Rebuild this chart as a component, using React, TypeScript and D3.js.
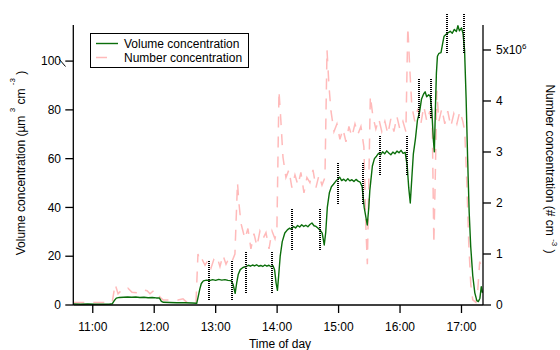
import React from "react";
import * as d3 from "d3";

// Time in minutes after midnight
const timeTickLabels = ["11:00", "12:00", "13:00", "14:00", "15:00", "16:00", "17:00"];
const volTicks = [0, 20, 40, 60, 80, 100];
const numTicks = [0, 1, 2, 3, 4, 5]; // x10^6

// Volume concentration (µm3 cm-3)
const volumeSeries: [number, number][] = [
  [641, 0.4], [648, 0.3], [655, 0.4], [662, 0.3], [670, 0.35], [676, 0.3], [679, 0.5], [681, 1.8], [683, 2.8],
  [686, 3.1], [690, 3.2], [694, 3.3], [698, 3.2], [702, 3.3], [706, 3.1], [710, 3.2], [714, 3.0], [718, 3.1],
  [722, 2.9], [725, 2.9], [727, 1.5], [729, 1.1], [735, 1.0], [742, 0.9], [750, 0.9], [757, 0.8], [761.5, 0.7],
  [763, 3.5], [764.5, 6.5], [766, 8.8], [768, 9.9], [771, 10.2], [774, 10.0], [777, 10.4], [780, 10.1],
  [783, 10.5], [786, 10.2], [789, 10.4], [792, 10.1], [795, 10.0], [797, 8.5], [799, 4.8], [800.5, 9],
  [802, 12.5], [804, 14.5], [806, 15.2], [808, 15.6], [810, 15.8], [812, 16.3], [814, 15.9], [816, 16.4],
  [818, 16.0], [820, 16.5], [822, 15.9], [824, 16.2], [826, 15.8], [828, 16.4], [830, 15.9], [832, 16.3],
  [834, 15.7], [836, 16.1], [837.5, 14.5], [839, 9], [840.3, 6.0], [841.5, 12], [843, 20], [845, 26],
  [847.5, 29.5], [850, 30.8], [852, 31.5], [854, 31.0], [856, 32.2], [858, 31.6], [860, 32.6], [862, 32.0],
  [864, 32.9], [866, 32.2], [868, 32.7], [870, 32.1], [872, 33.0], [874, 33.6], [876, 32.5], [878, 32.2],
  [880, 31.5], [882, 30.7], [884, 29.5], [886, 24.6], [887.5, 30], [889, 40], [891, 46], [893, 48.5],
  [895, 49.5], [897, 50.6], [899, 51.5], [901, 52.4], [903, 51.0], [905, 51.6], [907, 50.8], [909, 51.8],
  [911, 50.9], [913, 51.4], [915, 50.6], [917, 51.5], [919, 50.8], [921, 50.4], [923, 48.5], [925, 40],
  [928, 32.8], [929.5, 40], [930.5, 47], [931.5, 51], [933, 57], [935, 60], [937, 61], [939, 62.2],
  [941, 61.6], [943, 62.8], [945, 62.0], [947, 63.2], [949, 62.3], [951, 61.6], [953, 62.7], [955, 62.0],
  [957, 63.1], [959, 62.4], [961, 63.4], [963, 62.2], [965, 62.6], [967, 57], [968.5, 48], [970, 41.8],
  [971.5, 52], [973, 62], [975, 68], [977, 75.8], [979, 79], [981, 84.5], [983, 86.5], [984.5, 87.4],
  [986, 85.4], [988, 86.2], [989.5, 85.5], [991, 80], [992.5, 68], [993.5, 62.8], [994.5, 80], [995.5, 95],
  [996.5, 102], [998, 103.2], [1000, 103.5], [1001.5, 107], [1003, 110.2], [1005, 111], [1007, 111.6],
  [1009, 112.2], [1011, 111.4], [1013, 113], [1015, 112.1], [1016.5, 114.5], [1018, 112.4], [1020, 113.6],
  [1021.5, 111.3], [1023, 104.5], [1024.5, 85], [1026, 60], [1027.5, 38], [1029, 24], [1031, 12], [1033, 5],
  [1035, 1.8], [1036.5, 1.4], [1038, 2.8], [1039.3, 7.5], [1040.5, 5],
];

// Number concentration (x10^6 # cm-3)
const numberSeries: [number, number][] = [
  [641, 0.05], [660, 0.05], [679, 0.05], [681.8, 0.41], [684.7, 0.22], [688.6, 0.3], [691.5, 0.28],
  [694.4, 0.33], [698.3, 0.25], [703.2, 0.24], [708.1, 0.3], [713, 0.28], [715.9, 0.22], [718.8, 0.27],
  [722.7, 0.28], [725.7, 0.15], [728.6, 0.1], [735.4, 0.1], [743.2, 0.1], [748.1, 0.12], [752, 0.05],
  [760.8, 0.05], [762.7, 1.0], [764.7, 0.85], [766.6, 0.9], [769.6, 0.78], [772.5, 0.88], [775.4, 0.72],
  [778.3, 0.9], [781.3, 0.95], [784.2, 0.75], [787.1, 0.98], [790.1, 0.8], [793, 0.92], [795.9, 0.85],
  [798.8, 1.0], [801.3, 2.4], [802.7, 2.0], [804.7, 1.6], [806.6, 1.45], [808.6, 1.3], [811.5, 1.5],
  [814.4, 1.1], [817.4, 1.4], [820.3, 1.15], [823.2, 1.45], [826.2, 1.3], [829.1, 1.42], [832.1, 1.1],
  [835, 1.45], [837.9, 1.3], [839.8, 1.5], [841.8, 4.2], [843.7, 3.6], [845.7, 2.9], [848.6, 2.5],
  [851.5, 2.65], [854.4, 2.3], [857.4, 2.55], [860.3, 2.35], [863.2, 2.6], [866.2, 2.2], [869.1, 2.5],
  [872, 2.4], [875, 2.65], [877.9, 2.3], [880.9, 2.55], [883.8, 2.35], [886.7, 2.5], [888.7, 5.0],
  [890.6, 4.3], [892.6, 3.8], [895.5, 3.4], [898.4, 3.55], [901.3, 3.25], [904.3, 3.45], [907.2, 3.2],
  [910.1, 3.5], [913, 3.3], [916, 3.55], [918.9, 3.35], [921.8, 3.5], [924.7, 3.1], [926.7, 1.5],
  [928.1, 0.8], [929.6, 2.5], [931, 4.1], [933.5, 3.7], [936.4, 3.45], [939.3, 3.65], [942.2, 3.4],
  [945.2, 3.6], [948.1, 3.35], [951, 3.65], [954, 3.4], [956.9, 3.7], [959.8, 3.45], [962.8, 3.6],
  [965.7, 3.4], [967.6, 5.45], [969.6, 4.6], [971.5, 3.9], [974.4, 3.6], [977.4, 3.85], [980.3, 3.55],
  [983.2, 3.9], [986.2, 3.6], [989.1, 3.8], [991.5, 3.5], [993, 1.2], [994.4, 2.5], [995.9, 4.2],
  [997.9, 3.6], [1000.8, 3.85], [1003.7, 3.55], [1006.6, 3.8], [1009.6, 3.5], [1012.5, 3.75],
  [1015.5, 3.55], [1018.4, 3.8], [1021.3, 3.6], [1023.2, 3.4], [1025.2, 2.4], [1027.1, 1.2], [1029.1, 0.4],
  [1031, 0.1], [1034, 0.05], [1035.9, 0.3], [1037.8, 0.85], [1040.3, 0.7],
];

// Sampling-period markers (time, volume range)
const markerTimes = [773.5, 796.2, 809.3, 834.6, 854.7, 881.8, 899.0, 923.4, 940.3, 966.9, 978.6, 990.0, 1005.4, 1022.2];
const markerLow = [2.0, 2.0, 5.0, 5.0, 22.5, 22.5, 41.4, 41.4, 53.3, 53.3, 76.5, 76.5, 103.2, 103.2];
const markerHigh = [18.4, 18.4, 21.8, 21.8, 39.3, 39.3, 58.1, 58.1, 69.7, 69.7, 92.9, 92.9, 119.5, 119.5];

const W = 560, H = 350;
const L = 73.3, R = 483, T = 25, B = 305;
const FONT = "Liberation Sans, Arial, sans-serif";

function toMin(s: string) {
  const [h, m] = s.split(":").map(Number);
  return h * 60 + m;
}

export default function App() {
  const x = d3.scaleLinear().domain([641, 1041]).range([L, R]);
  const yV = d3.scaleLinear().domain([0, 114.8]).range([B, T]);
  const yN = d3.scaleLinear().domain([0, 5.49]).range([B, T]);

  const lineV = d3.line<[number, number]>().x((d) => x(d[0])).y((d) => yV(d[1]));
  const lineN = d3.line<[number, number]>().x((d) => x(d[0])).y((d) => yN(d[1]));

  const green = "#0b6e0b";
  const pink = "#ffbaba";

  return (
    <div style={{ position: "absolute", left: 0, top: 0 }}>
      <svg width={W} height={H} style={{ display: "block", background: "#fff" }} fontFamily={FONT}>
        <defs>
          <clipPath id="plotclip">
            <rect x={L} y={T} width={R - L} height={B - T} />
          </clipPath>
        </defs>

        <g clipPath="url(#plotclip)">
          <path d={lineN(numberSeries) || ""} fill="none" stroke={pink} strokeWidth={1.5} strokeDasharray="11,9" />
          <path d={lineV(volumeSeries) || ""} fill="none" stroke={green} strokeWidth={1.4} strokeLinejoin="round" />
        </g>

        {markerTimes.map((t, i) => (
          <line key={"m" + i} x1={Math.round(x(t))} x2={Math.round(x(t))}
            y1={Math.round(yV(markerLow[i]))} y2={Math.round(yV(markerHigh[i]))}
            stroke="#000" strokeWidth={2} strokeDasharray="1,1" shapeRendering="crispEdges" />
        ))}

        {/* axes */}
        <line x1={L} x2={L} y1={T} y2={B} stroke="#000" strokeWidth={1.3} />
        <line x1={R} x2={R} y1={T} y2={B} stroke="#000" strokeWidth={1.3} />
        <line x1={L} x2={R} y1={B} y2={B} stroke="#000" strokeWidth={1.3} />

        {volTicks.map((v) => (
          <g key={"v" + v}>
            <line x1={L - 8} x2={L} y1={yV(v)} y2={yV(v)} stroke="#000" strokeWidth={1.3} />
            <text x={61} y={yV(v)} dy="0.35em" textAnchor="end" fontSize={12}>{v}</text>
          </g>
        ))}
        <line x1={59} y1={59} x2={65.5} y2={66.5} stroke="#000" strokeWidth={1} />

        {numTicks.map((v) => (
          <g key={"n" + v}>
            <line x1={R} x2={R + 8} y1={yN(v)} y2={yN(v)} stroke="#000" strokeWidth={1.3} />
            <text x={496} y={yN(v)} dy="0.35em" textAnchor="start" fontSize={12}>
              {v === 5 ? (
                <>
                  5x10<tspan fontSize={8} dy="-5">6</tspan>
                </>
              ) : (
                v
              )}
            </text>
          </g>
        ))}

        {timeTickLabels.map((s) => (
          <g key={s}>
            <line x1={x(toMin(s))} x2={x(toMin(s))} y1={B} y2={B + 8} stroke="#000" strokeWidth={1.3} />
            <text x={x(toMin(s))} y={331} textAnchor="middle" fontSize={12}>{s}</text>
          </g>
        ))}

        <text x={280} y={348} textAnchor="middle" fontSize={12}>Time of day</text>

        <text transform="translate(25,163) rotate(-90)" textAnchor="middle" fontSize={12}>
          Volume concentration (µm <tspan fontSize={8} dy="-10">3</tspan>
          <tspan dy="10"> cm </tspan>
          <tspan fontSize={8} dy="-10">-3</tspan>
          <tspan dy="10"> )</tspan>
        </text>

        <text transform="translate(545.5,169) rotate(90)" textAnchor="middle" fontSize={12}>
          Number concentration (# cm <tspan fontSize={8} dy="-6.5">-3</tspan>
          <tspan dy="6.5"> )</tspan>
        </text>

        {/* legend */}
        <rect x={90.5} y={33.5} width={158} height={34} fill="#fff" stroke="#000" strokeWidth={1} />
        <line x1={96} x2={118} y1={43.5} y2={43.5} stroke={green} strokeWidth={1.4} />
        <line x1={96} x2={118} y1={57.5} y2={57.5} stroke={pink} strokeWidth={1.5} strokeDasharray="11,11" />
        <text x={124} y={47.5} fontSize={12}>Volume concentration</text>
        <text x={124} y={62} fontSize={12}>Number concentration</text>
      </svg>
    </div>
  );
}
